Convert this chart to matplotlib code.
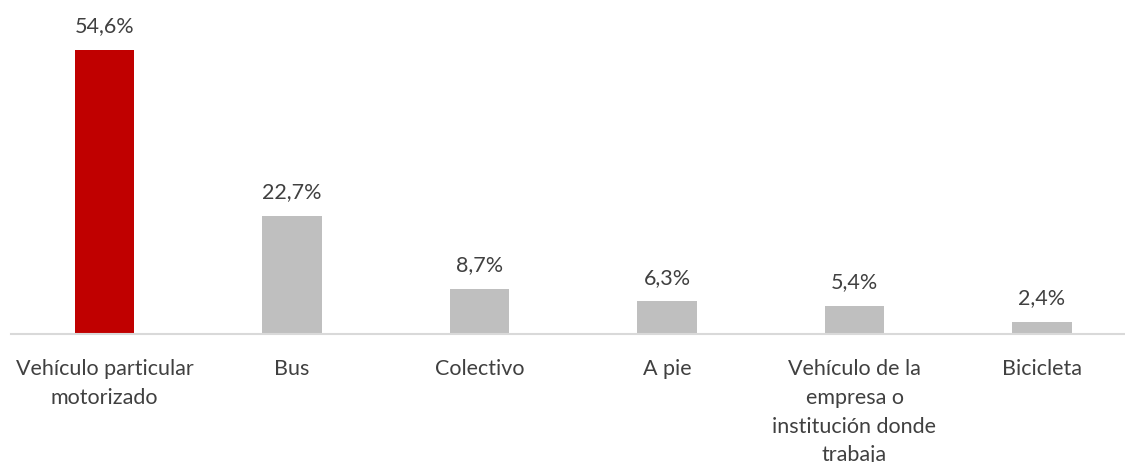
import numpy as np
import matplotlib.pyplot as plt

categorias = ["Vehículo particular\nmotorizado", "Bus", "Colectivo", "A pie",
              "Vehículo de la\nempresa o\ninstitución donde\ntrabaja", "Bicicleta"]
valores = [54.6, 22.7, 8.7, 6.3, 5.4, 2.4]
etiquetas = ["54,6%", "22,7%", "8,7%", "6,3%", "5,4%", "2,4%"]
colores = ["#C00000", "#BFBFBF", "#BFBFBF", "#BFBFBF", "#BFBFBF", "#BFBFBF"]

plt.rcParams['font.family'] = ['Lato', 'DejaVu Sans']
texto = "#404040"

fig = plt.figure(figsize=(11.25, 4.62), dpi=100)
ax = fig.add_axes([10.75 / 1125, 128 / 462, 1.0, 312 / 462])

x = np.arange(len(valores))
bars = ax.bar(x, valores, width=0.315, color=colores)

for b, lab in zip(bars, etiquetas):
    ax.annotate(lab, (b.get_x() + b.get_width() / 2, b.get_height()),
                xytext=(0, 17), textcoords="offset points",
                ha="center", va="center", fontsize=15.5, color=texto)

ax.set_xlim(-0.5, 5.5)
ax.set_ylim(0, 60)
ax.set_xticks(x)
ax.set_xticklabels(categorias, fontsize=15.5, color=texto, linespacing=1.55, va="top")
ax.tick_params(axis="x", length=0, pad=18)
ax.set_yticks([])
for s in ["top", "right", "left"]:
    ax.spines[s].set_visible(False)
ax.spines["bottom"].set_color("#D9D9D9")
ax.spines["bottom"].set_linewidth(1.5)

fig.savefig("out.png", dpi=100)
